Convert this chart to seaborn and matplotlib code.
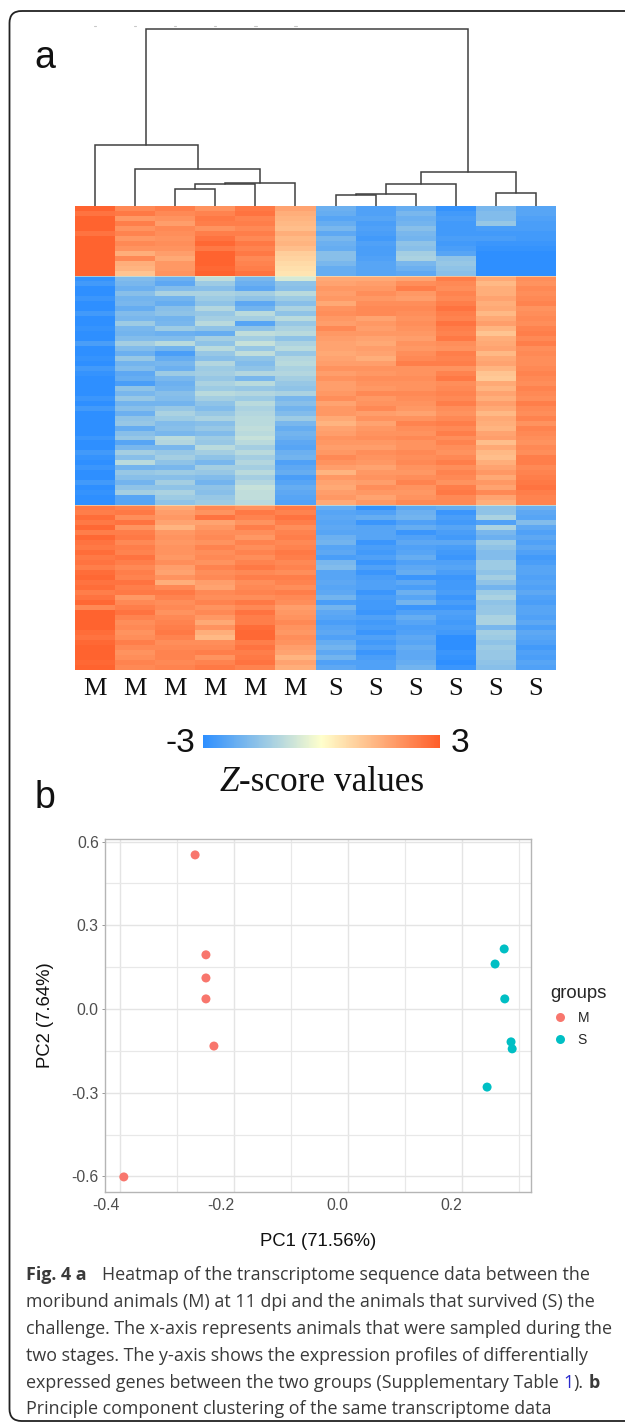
import numpy as np
import pandas as pd
import matplotlib
matplotlib.use('Agg')
import matplotlib.pyplot as plt
import seaborn as sns
from matplotlib.colors import LinearSegmentedColormap
from matplotlib.patches import FancyBboxPatch

W, H = 625, 1424

samples = ['M', 'M', 'M', 'M', 'M', 'M', 'S', 'S', 'S', 'S', 'S', 'S']

# top gene block, one list per animal
top_m1 = [2.9, 2.6, 2.9, 2.9, 2.9, 2.6, 2.9, 2.9, 2.9, 2.9, 2.9, 2.9, 2.9, 2.9]
top_m2 = [2.2, 2.5, 1.9, 2.4, 2.0, 2.3, 1.9, 2.2, 2.0, 1.5, 2.2, 1.5, 1.4, 1.1]
top_m3 = [2.4, 2.2, 2.0, 1.8, 2.2, 2.1, 2.0, 2.1, 2.0, 1.8, 1.6, 1.9, 1.9, 2.0]
top_m4 = [2.0, 2.3, 2.5, 2.4, 2.0, 2.4, 2.6, 2.8, 2.5, 2.9, 2.9, 2.9, 2.8, 2.9]
top_m5 = [2.5, 2.6, 2.3, 2.4, 2.2, 2.4, 2.2, 2.5, 2.3, 2.5, 2.2, 2.3, 2.4, 2.6]
top_m6 = [1.7, 1.5, 1.4, 1.3, 1.2, 1.5, 1.3, 1.4, 1.2, 0.9, 0.8, 0.7, 0.6, 0.5]
top_s1 = [-2.1, -2.2, -2.4, -2.2, -1.9, -2.3, -1.9, -2.1, -2.2, -1.7, -1.7, -1.9, -2.2, -2.2]
top_s2 = [-2.5, -2.5, -2.4, -2.6, -2.5, -2.6, -2.7, -2.5, -2.6, -2.6, -2.5, -2.4, -2.4, -2.4]
top_s3 = [-2.2, -1.9, -2.1, -2.0, -1.7, -1.9, -2.0, -1.6, -1.7, -1.3, -1.2, -1.9, -2.1, -2.3]
top_s4 = [-2.9, -2.7, -2.6, -2.7, -2.7, -2.7, -2.6, -2.7, -2.6, -2.4, -1.6, -1.5, -1.6, -1.7]
top_s5 = [-1.9, -1.8, -1.8, -1.5, -2.6, -2.7, -2.6, -2.8, -2.9, -3, -3, -3, -3, -3]
top_s6 = [-2.4, -2.4, -2.5, -2.6, -2.6, -2.7, -2.7, -2.8, -2.9, -3, -3, -3, -3, -3]

# middle block
mid_m1 = [-2.9, -2.7, -3, -3, -2.8, -3, -3, -2.7, -3, -3,
          -2.9, -3, -3, -2.6, -3, -3, -2.9, -3, -2.7, -2.9,
          -3, -3, -3, -3, -2.8, -3, -2.7, -3, -3, -3,
          -3, -3, -2.8, -3, -3, -2.7, -2.9, -3, -2.8, -3,
          -3, -2.7, -3, -2.9, -3, -3]
mid_m2 = [-1.8, -1.9, -2.1, -1.7, -2.0, -1.9, -2.2, -1.8, -1.9, -1.4,
          -1.9, -2.0, -1.8, -1.3, -1.8, -2.1, -1.5, -2.0, -1.8, -2.3,
          -2.2, -2.6, -1.6, -1.9, -1.5, -2.0, -1.7, -2.1, -1.6, -1.5,
          -2.2, -1.7, -1.5, -2.4, -1.9, -1.3, -1.7, -1.0, -2.0, -1.5,
          -1.7, -2.0, -1.6, -1.3, -2.4, -2.4]
mid_m3 = [-2.1, -2.3, -1.8, -1.2, -2.0, -2.2, -1.7, -1.6, -2.0, -1.9,
          -1.4, -2.1, -1.8, -1.0, -2.0, -2.6, -2.2, -1.9, -2.1, -1.4,
          -1.9, -2.1, -2.0, -1.7, -1.8, -2.0, -1.5, -1.2, -1.4, -1.8,
          -1.7, -1.9, -1.0, -1.1, -1.9, -1.5, -1.3, -1.6, -1.9, -1.4,
          -1.7, -1.3, -1.6, -1.2, -1.4, -1.6]
mid_m4 = [-0.9, -1.4, -1.7, -1.2, -1.4, -1.6, -1.1, -1.5, -1.3, -1.0,
          -1.6, -2.2, -1.3, -1.6, -1.0, -1.5, -1.7, -1.1, -1.4, -1.3,
          -1.5, -1.2, -1.4, -1.0, -1.3, -1.6, -1.8, -1.5, -1.2, -1.7,
          -1.5, -1.8, -1.4, -1.5, -1.0, -1.3, -1.6, -1.9, -1.3, -1.5,
          -1.8, -2.0, -1.6, -1.7, -1.5, -1.4]
mid_m5 = [-1.9, -2.1, -2.3, -1.3, -1.6, -2.3, -2.0, -1.0, -1.3, -2.4,
          -1.6, -0.9, -1.3, -0.8, -1.5, -0.9, -1.6, -1.8, -1.6, -1.1,
          -1.9, -1.0, -1.5, -1.1, -1.4, -1.0, -1.2, -1.1, -1.0, -1.0,
          -0.9, -1.0, -0.8, -1.0, -1.3, -1.0, -1.3, -1.1, -1.3, -1.0,
          -1.3, -1.1, -0.8, -0.9, -0.9, -1.0]
mid_m6 = [-0.6, -1.6, -1.7, -1.0, -1.4, -1.7, -1.2, -1.6, -1.0, -1.5,
          -1.2, -1.0, -1.6, -1.2, -1.0, -1.5, -1.1, -1.0, -1.2, -1.1,
          -1.3, -1.5, -1.6, -1.2, -1.9, -1.7, -2.0, -1.8, -1.4, -1.9,
          -2.2, -2.0, -2.1, -2.3, -2.4, -2.1, -2.0, -2.5, -2.3, -2.2,
          -2.6, -2.4, -2.2, -2.3, -2.4, -2.5]
mid_s1 = [1.6, 1.7, 1.9, 1.8, 1.9, 1.6, 2.0, 2.1, 1.9, 1.8,
          2.2, 1.9, 1.8, 1.7, 1.7, 1.6, 1.7, 1.8, 2.0, 1.8,
          2.0, 1.8, 1.8, 1.9, 2.1, 1.7, 1.9, 1.9, 1.6, 1.4,
          1.7, 1.8, 2.0, 1.9, 1.8, 1.9, 2.2, 2.0, 1.8, 1.4,
          1.9, 1.7, 1.6, 1.8, 1.9, 1.6]
mid_s2 = [1.6, 1.8, 1.9, 2.1, 1.9, 2.1, 2.2, 2.2, 1.7, 1.9,
          1.8, 1.9, 1.7, 1.6, 1.8, 1.7, 1.5, 1.8, 2.0, 1.9,
          2.1, 2.0, 1.9, 2.2, 1.9, 2.0, 2.2, 1.8, 2.0, 1.7,
          1.9, 2.0, 2.1, 1.9, 1.8, 2.1, 2.0, 1.9, 1.7, 1.9,
          2.0, 1.8, 2.1, 1.9, 1.7, 1.9]
mid_s3 = [1.7, 2.1, 2.4, 1.9, 1.8, 2.1, 2.2, 2.1, 2.0, 2.1,
          2.0, 1.9, 1.8, 2.0, 1.9, 2.1, 2.2, 2.4, 2.0, 2.0,
          2.1, 2.0, 2.0, 2.2, 2.1, 2.0, 1.9, 1.7, 2.0, 2.3,
          2.1, 2.0, 2.2, 2.0, 2.0, 2.2, 2.1, 2.2, 2.0, 1.9,
          2.1, 2.3, 2.0, 1.9, 2.0, 2.2]
mid_s4 = [2.4, 2.2, 2.1, 2.3, 2.2, 2.4, 2.6, 2.4, 2.3, 2.6,
          2.4, 2.3, 2.5, 2.1, 2.0, 2.4, 2.3, 2.4, 2.0, 2.3,
          2.5, 2.1, 2.2, 2.3, 2.2, 2.4, 2.1, 2.0, 2.2, 2.4,
          2.2, 2.4, 2.1, 2.3, 2.1, 2.0, 2.2, 2.4, 2.1, 2.3,
          2.2, 2.0, 2.4, 2.5, 2.2, 2.2]
mid_s5 = [1.6, 1.3, 1.5, 1.5, 1.7, 1.5, 1.6, 1.3, 1.6, 1.8,
          1.4, 1.1, 1.5, 1.6, 1.7, 1.3, 1.6, 1.7, 1.4, 1.1,
          1.0, 1.6, 1.4, 1.7, 1.5, 1.8, 1.6, 1.3, 1.6, 1.5,
          1.4, 1.7, 1.8, 1.2, 1.6, 1.3, 1.2, 1.5, 1.7, 1.9,
          1.6, 1.9, 1.7, 2.2, 1.7, 1.5]
mid_s6 = [2.1, 2.0, 2.2, 2.1, 2.2, 2.3, 2.0, 2.1, 2.2, 2.1,
          2.3, 2.4, 2.2, 2.4, 2.1, 2.2, 2.1, 2.1, 2.2, 2.3,
          2.2, 2.1, 2.3, 2.2, 2.1, 2.4, 2.2, 2.1, 2.3, 2.0,
          2.3, 2.2, 2.1, 2.0, 2.2, 2.1, 2.4, 2.4, 2.2, 2.3,
          2.4, 2.5, 2.6, 2.4, 2.3, 2.3]

# bottom block
bot_m1 = [2.5, 2.4, 2.7, 2.5, 2.8, 2.4, 2.8, 2.6, 2.5, 2.7,
          2.5, 2.6, 2.4, 2.7, 2.8, 2.6, 2.7, 2.4, 2.6, 2.8,
          2.2, 2.9, 2.9, 2.9, 2.9, 2.7, 2.6, 2.8, 2.9, 2.9,
          2.9, 2.8, 2.9]
bot_m2 = [2.3, 2.5, 2.1, 2.6, 2.0, 2.4, 2.5, 2.2, 2.4, 2.3,
          2.6, 2.4, 2.2, 2.4, 2.3, 2.6, 2.4, 2.5, 1.9, 2.2,
          2.4, 2.6, 2.3, 2.1, 2.2, 2.0, 2.1, 2.4, 2.2, 2.0,
          2.1, 2.3, 2.2]
bot_m3 = [1.6, 1.8, 1.9, 1.7, 1.4, 1.9, 2.0, 1.9, 2.0, 2.0,
          1.9, 2.1, 1.8, 1.7, 2.0, 1.5, 2.2, 2.5, 2.3, 2.1,
          2.2, 2.0, 2.2, 2.3, 2.4, 2.5, 2.3, 2.1, 2.2, 2.3,
          2.3, 2.2, 2.3]
bot_m4 = [2.2, 2.0, 2.6, 1.7, 1.9, 2.1, 2.2, 2.0, 2.3, 2.1,
          2.2, 2.0, 2.3, 2.1, 2.2, 1.8, 1.7, 2.2, 2.1, 2.3,
          2.0, 2.2, 1.9, 1.6, 2.0, 1.5, 1.3, 2.1, 2.2, 2.4,
          2.0, 2.3, 2.5]
bot_m5 = [2.0, 2.5, 2.3, 2.0, 2.4, 2.1, 1.9, 2.3, 2.1, 2.3,
          2.1, 2.3, 2.5, 2.2, 2.4, 2.1, 2.2, 2.3, 2.1, 2.5,
          2.2, 2.6, 2.4, 2.4, 2.7, 2.8, 2.8, 2.4, 2.6, 2.4,
          2.5, 2.6, 2.3]
bot_m6 = [2.5, 2.3, 2.6, 2.4, 2.1, 2.3, 2.4, 2.2, 2.3, 2.5,
          2.4, 2.2, 2.3, 2.1, 2.4, 2.3, 2.1, 2.4, 2.2, 2.1,
          1.8, 1.9, 2.0, 2.2, 2.0, 1.9, 2.1, 2.0, 1.8, 1.7,
          1.4, 1.7, 1.5]
bot_s1 = [-2.2, -2.4, -2.3, -2.4, -2.3, -2.4, -2.1, -2.0, -2.4, -2.3,
          -2.6, -1.9, -1.8, -2.4, -2.4, -2.3, -2.4, -2.3, -2.0, -2.6,
          -2.0, -2.3, -2.4, -2.6, -2.4, -2.3, -2.5, -2.2, -2.0, -2.3,
          -2.0, -2.5, -2.3]
bot_s2 = [-2.9, -2.5, -2.2, -2.8, -2.4, -2.4, -2.4, -2.8, -2.6, -2.7,
          -2.5, -2.8, -2.5, -2.8, -2.6, -2.5, -2.5, -2.8, -2.6, -2.7,
          -2.7, -2.8, -2.5, -2.7, -2.6, -2.8, -2.5, -2.7, -2.5, -2.8,
          -2.6, -2.5, -2.5]
bot_s3 = [-2.3, -2.1, -2.0, -2.5, -2.2, -2.8, -2.5, -2.3, -2.5, -2.4,
          -2.2, -2.5, -2.3, -2.2, -2.8, -2.3, -2.6, -2.1, -2.4, -2.0,
          -2.8, -2.5, -2.2, -2.4, -2.6, -2.5, -2.3, -2.4, -2.2, -2.3,
          -2.3, -2.2, -2.0]
bot_s4 = [-2.2, -2.8, -2.6, -2.7, -2.4, -2.6, -2.7, -2.3, -2.6, -2.7,
          -2.8, -2.5, -2.4, -2.6, -2.8, -2.7, -2.7, -2.6, -2.8, -2.6,
          -2.8, -2.5, -2.6, -2.7, -2.6, -2.7, -3, -3, -3, -2.8,
          -2.9, -3, -2.8]
bot_s5 = [-1.6, -1.6, -1.2, -2.5, -1.2, -1.9, -2.1, -1.4, -1.6, -1.8,
          -1.8, -1.4, -1.4, -1.6, -1.3, -1.6, -2.0, -1.4, -1.2, -1.6,
          -1.5, -1.5, -1.2, -1.2, -1.9, -1.3, -1.4, -1.6, -1.4, -1.5,
          -1.5, -1.6, -1.7]
bot_s6 = [-2.1, -2.3, -2.4, -1.8, -2.3, -2.5, -2.3, -2.5, -2.3, -2.5,
          -2.7, -2.6, -2.4, -2.4, -2.5, -2.4, -2.5, -2.3, -2.5, -2.6,
          -2.4, -2.4, -2.5, -2.3, -2.6, -2.3, -2.4, -2.5, -2.7, -2.5,
          -2.6, -2.4, -2.5]

# dendrogram merges: left node, right node, height (leaves are 0-11, new nodes 12+)
merge_left = [2, 12, 13, 1, 0, 6, 17, 18, 10, 19, 16]
merge_right = [3, 4, 5, 14, 15, 7, 8, 9, 11, 20, 21]
merge_height = [17, 22, 23, 37, 61, 10.7, 11.7, 22, 13, 34, 177]

# PCA scores
pc1_m = [-0.268, -0.249, -0.249, -0.249, -0.235, -0.393]
pc2_m = [0.552, 0.194, 0.111, 0.036, -0.133, -0.602]
pc1_s = [0.274, 0.258, 0.275, 0.286, 0.288, 0.244]
pc2_s = [0.215, 0.161, 0.036, -0.118, -0.143, -0.280]

sns.set_theme(style='white')
plt.rcParams['font.family'] = ['Liberation Sans', 'DejaVu Sans']

fig = plt.figure(figsize=(W / 100, H / 100), dpi=100)


def px_axes(left, top, right, bottom, **kw):
    """Axes placed with picture pixel coordinates"""
    return fig.add_axes([left / W, 1 - bottom / H, (right - left) / W, (bottom - top) / H], **kw)


# overlay in pixel coordinates for the frame and free text
page = px_axes(0, 0, W, H)
page.set_xlim(0, W)
page.set_ylim(H, 0)
page.axis('off')
page.add_patch(FancyBboxPatch((9.5, 11), 660, 1410, boxstyle='round,pad=0,rounding_size=12',
                              fc='none', ec='#222222', lw=1.3, clip_on=False))


def put_runs(x, y, runs, size, family, gap=0.26):
    """Write text pieces one after the other, each (text, weight, style, color)"""
    renderer = fig.canvas.get_renderer()
    for i, (text, weight, style, color) in enumerate(runs):
        t = page.text(x, y, text, fontsize=size, family=family, weight=weight, style=style,
                      color=color, ha='left', va='baseline')
        x = t.get_window_extent(renderer).x1
        # closing punctuation sits right against the piece before it
        if i + 1 < len(runs) and not runs[i + 1][0].startswith(')'):
            x += gap * size * 100 / 72


# heatmap, cells come from the block lists
columns = [top_m1 + mid_m1 + bot_m1, top_m2 + mid_m2 + bot_m2, top_m3 + mid_m3 + bot_m3,
           top_m4 + mid_m4 + bot_m4, top_m5 + mid_m5 + bot_m5, top_m6 + mid_m6 + bot_m6,
           top_s1 + mid_s1 + bot_s1, top_s2 + mid_s2 + bot_s2, top_s3 + mid_s3 + bot_s3,
           top_s4 + mid_s4 + bot_s4, top_s5 + mid_s5 + bot_s5, top_s6 + mid_s6 + bot_s6]
matrix = np.array(columns).T
zcmap = LinearSegmentedColormap.from_list('zscore', ['#2E8FFF', '#FFFFCC', '#FF5E2A'])

ax_heat = px_axes(75, 206, 556, 670)
ax_cbar = px_axes(203, 735, 440, 748)
sns.heatmap(matrix, ax=ax_heat, cmap=zcmap, vmin=-3, vmax=3, xticklabels=samples, yticklabels=False,
            cbar_ax=ax_cbar, cbar_kws={'orientation': 'horizontal', 'ticks': []})
ax_heat.collections[0].colorbar.outline.set_visible(False)
ax_heat.set_xticklabels(samples, rotation=0, family='Liberation Serif', fontsize=19, color='#111111')
ax_heat.tick_params(axis='x', length=0, pad=6)
for row in (len(top_m1), len(top_m1) + len(mid_m1)):
    ax_heat.axhline(row, color='#F2F0C8', lw=0.6, alpha=0.7)

# dendrogram
ax_den = px_axes(75, 20, 556, 206)
ax_den.set_xlim(0, len(samples))
ax_den.set_ylim(0, 186)
ax_den.axis('off')
node_x = [i + 0.5 for i in range(len(samples))]
node_h = [0] * len(samples)
for a, b, h in zip(merge_left, merge_right, merge_height):
    ax_den.plot([node_x[a], node_x[a], node_x[b], node_x[b]], [node_h[a], h, h, node_h[b]],
                color='#404040', lw=1.1, solid_joinstyle='miter')
    node_x.append((node_x[a] + node_x[b]) / 2)
    node_h.append(h)
for i in range(6):
    ax_den.plot([i + 0.47, i + 0.53], [180, 180], color='#C8C8C8', lw=0.8)

# PCA panel
pca = pd.DataFrame({'PC1': pc1_m + pc1_s, 'PC2': pc2_m + pc2_s,
                    'groups': ['M'] * len(pc1_m) + ['S'] * len(pc1_s)})
ax_pca = px_axes(105, 839, 531, 1192)
sns.scatterplot(data=pca, x='PC1', y='PC2', hue='groups', palette={'M': '#F8766D', 'S': '#00BFC4'},
                s=42, linewidth=0, ax=ax_pca, zorder=3)
ax_pca.set_xlim(-0.426, 0.321)
ax_pca.set_ylim(-0.656, 0.609)
ax_pca.set_xticks([-0.4, -0.2, 0.0, 0.2])
ax_pca.set_yticks([-0.6, -0.3, 0.0, 0.3, 0.6])
ax_pca.set_xticks([-0.3, -0.1, 0.1, 0.3], minor=True)
ax_pca.set_yticks([-0.45, -0.15, 0.15, 0.45], minor=True)
ax_pca.set_xticklabels(['-0.4', '-0.2', '0.0', '0.2'], ha='right')
ax_pca.set_yticklabels(['-0.6', '-0.3', '0.0', '0.3', '0.6'])
ax_pca.grid(True, which='major', color='#E4E4E4', lw=1.0)
ax_pca.grid(True, which='minor', color='#E8E8E8', lw=0.9)
ax_pca.set_axisbelow(True)
ax_pca.tick_params(axis='both', which='major', labelsize=11.3, labelcolor='#4D4D4D', length=2.5,
                   width=0.7, color='#999999', bottom=False, left=True, pad=2)
ax_pca.tick_params(axis='both', which='minor', length=0)
for spine in ax_pca.spines.values():
    spine.set_color('#B5B5B5')
    spine.set_linewidth(1.0)
ax_pca.set_xlabel('PC1 (71.56%)', fontsize=13.3, color='#111111', labelpad=14)
ax_pca.set_ylabel('PC2 (7.64%)', fontsize=13.3, color='#111111', labelpad=12.5)
sns.move_legend(ax_pca, 'upper left', bbox_to_anchor=(1.028, 0.605), frameon=False, title='groups',
                fontsize=10, title_fontsize=13.3, alignment='left', labelspacing=0.6,
                borderpad=0, handlelength=1.4, handletextpad=0.6, markerscale=1)

# panel letters and colour bar text
page.text(45, 68, 'a', fontsize=27, ha='center', va='baseline', color='#111111')
page.text(45, 808, 'b', fontsize=27, ha='center', va='baseline', color='#111111')
page.text(195, 752, '-3', fontsize=24, ha='right', va='baseline', color='#111111')
page.text(451, 752, '3', fontsize=24, ha='left', va='baseline', color='#111111')
put_runs(220, 791, [('Z', 'normal', 'italic', '#111111')], 25.4, 'Liberation Serif', gap=0)
put_runs(239, 791, [('-score values', 'normal', 'normal', '#111111')], 25.4, 'Liberation Serif', gap=0)

# caption
ink = '#3A3A3A'
cap_font = 'Open Sans'
cap_size = 12.85
put_runs(26, 1280, [('Fig. 4 a', 'bold', 'normal', ink),
                    ('Heatmap of the transcriptome sequence data between the', 'normal', 'normal', ink)],
         cap_size, cap_font, gap=0.85)
put_runs(26, 1307, [('moribund animals (M) at 11 dpi and the animals that survived (S) the', 'normal', 'normal', ink)],
         cap_size, cap_font)
put_runs(26, 1334, [('challenge. The x-axis represents animals that were sampled during the', 'normal', 'normal', ink)],
         cap_size, cap_font)
put_runs(26, 1361, [('two stages. The y-axis shows the expression profiles of differentially', 'normal', 'normal', ink)],
         cap_size, cap_font)
put_runs(26, 1388, [('expressed genes between the two groups (Supplementary Table', 'normal', 'normal', ink),
                    ('1', 'normal', 'normal', '#2A2ACC'),
                    (').', 'normal', 'normal', ink),
                    ('b', 'bold', 'normal', ink)], cap_size, cap_font)
put_runs(26, 1414, [('Principle component clustering of the same transcriptome data', 'normal', 'normal', ink)],
         cap_size, cap_font)

fig.savefig('out.png', dpi=100)
